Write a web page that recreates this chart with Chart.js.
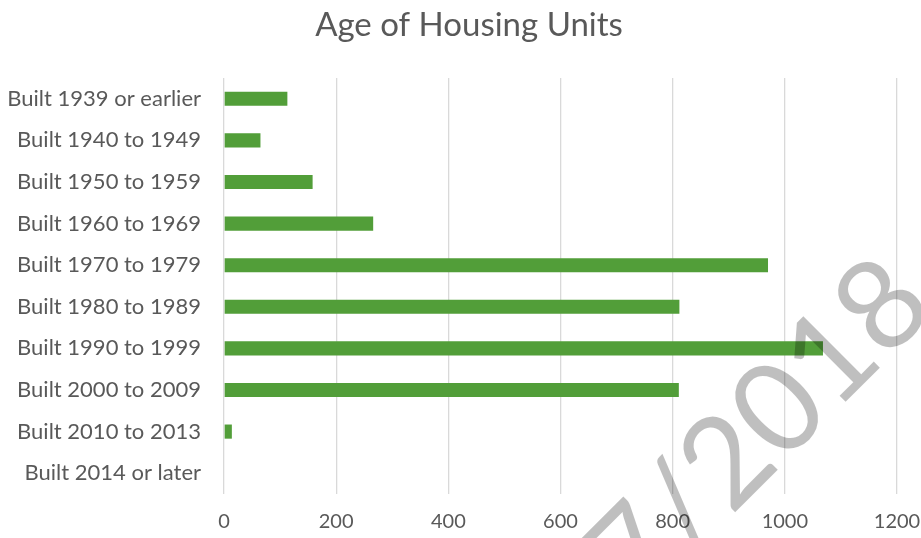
<!DOCTYPE html>
<html>
<head>
<meta charset="utf-8">
<script src="https://cdn.jsdelivr.net/npm/chart.js@4/dist/chart.umd.min.js"></script>
<style>
  html, body { margin: 0; padding: 0; background: #fff; }
  #wrap { width: 921px; height: 538px; position: relative; }
</style>
</head>
<body>
<div id="wrap"><canvas id="housing-chart"></canvas></div>
<script>
const categories = [
  'Built 1939 or earlier',
  'Built 1940 to 1949',
  'Built 1950 to 1959',
  'Built 1960 to 1969',
  'Built 1970 to 1979',
  'Built 1980 to 1989',
  'Built 1990 to 1999',
  'Built 2000 to 2009',
  'Built 2010 to 2013',
  'Built 2014 or later',
];
const units = [113, 65, 158, 266, 970, 812, 1068, 811, 14, 0];
const xTicks = [0, 200, 400, 600, 800, 1000, 1200];
const titleText = 'Age of Housing Units';
const watermarkText = '7/2018';

const textGray = '#595959';
const gridGray = '#d9d9d9';
const barGreen = '#529e39';
const fontFamily = 'Lato, "Open Sans", sans-serif';

// the original title sits a bit right of the canvas centre, so draw it by hand
const chartTitle = {
  id: 'chartTitle',
  afterDraw(chart) {
    const c = chart.ctx;
    c.save();
    c.font = `33px ${fontFamily}`;
    c.fillStyle = textGray;
    c.textAlign = 'center';
    c.textBaseline = 'alphabetic';
    c.fillText(titleText, 469, 36);
    c.restore();
  },
};

// stamp drawn over the finished chart, like the scanned date on the original
const watermark = {
  id: 'watermark',
  afterDraw(chart) {
    const c = chart.ctx;
    c.save();
    c.translate(909, 281);
    c.rotate(-Math.PI / 4);
    c.font = `126px ${fontFamily}`;
    c.fillStyle = 'rgba(0, 0, 0, 0.25)';
    c.textAlign = 'right';
    c.textBaseline = 'middle';
    c.fillText(watermarkText, 0, 0);
    c.restore();
  },
};

const ctx = document.getElementById('housing-chart');
new Chart(ctx, {
  type: 'bar',
  data: {
    labels: categories,
    datasets: [{
      label: 'Housing units',
      data: units,
      backgroundColor: barGreen,
      borderWidth: 0,
      barPercentage: 0.34,
      categoryPercentage: 1,
    }],
  },
  options: {
    indexAxis: 'y',
    responsive: true,
    maintainAspectRatio: false,
    animation: false,
    layout: { padding: { left: 0, right: 24, top: 78, bottom: 0 } },
    plugins: {
      legend: { display: false },
      tooltip: { enabled: false },
      title: { display: false },
    },
    scales: {
      x: {
        min: 0,
        max: 1200,
        afterBuildTicks: (scale) => { scale.ticks = xTicks.map((v) => ({ value: v })); },
        afterFit: (scale) => {
          scale.height = 44;
          scale.paddingLeft = 0;
          scale.paddingRight = 0;
        },
        grid: { color: gridGray, lineWidth: 1.3, drawTicks: false },
        border: { display: false },
        ticks: {
          color: textGray,
          padding: 16,
          font: { family: fontFamily, size: 20 },
          callback: (value) => String(value),
        },
      },
      y: {
        afterFit: (scale) => {
          scale.width = 224;
          scale.paddingTop = 0;
          scale.paddingBottom = 0;
        },
        grid: { display: false, drawTicks: false },
        border: { display: false },
        ticks: { color: textGray, padding: 23, font: { family: fontFamily, size: 22 } },
      },
    },
  },
  plugins: [chartTitle, watermark],
});
</script>
</body>
</html>
